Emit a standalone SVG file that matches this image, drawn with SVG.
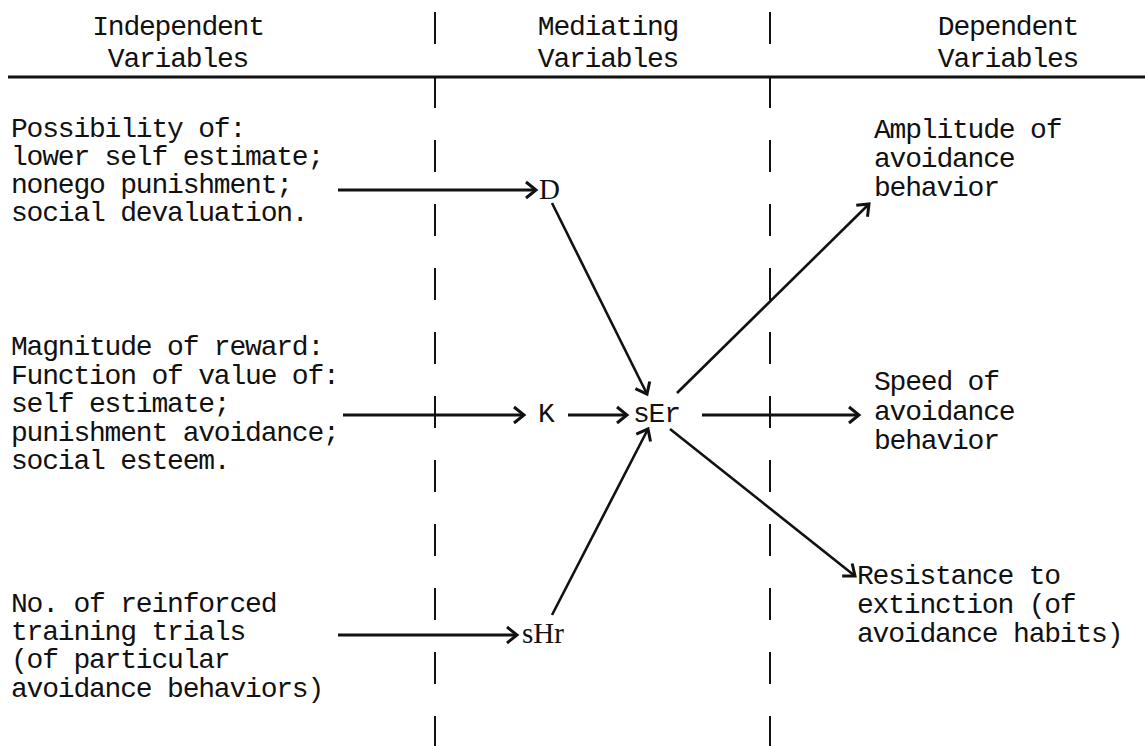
<svg xmlns="http://www.w3.org/2000/svg" width="1145" height="746" viewBox="0 0 1145 746">
<style>
text{font-family:"Liberation Mono","Courier New",monospace;font-size:28px;letter-spacing:-1.2px;fill:#111}
.c{text-anchor:middle}
.serif{font-family:"Liberation Serif","Times New Roman",serif;font-size:29px;letter-spacing:0}
.div{stroke:#111;stroke-width:2;stroke-dasharray:32 32;fill:none}
.rule{stroke:#111;stroke-width:3}
.arr{stroke:#111;stroke-width:3;fill:none;marker-end:url(#ah)}
.ln{stroke:#111;stroke-width:2.6;fill:none;marker-end:url(#ah)}
</style>
<defs>
<marker id="ah" markerUnits="userSpaceOnUse" viewBox="-14 -10 16 20" refX="0" refY="0" markerWidth="16" markerHeight="20" orient="auto" overflow="visible">
<path d="M-10,-8 L0,0 L-10,8" fill="none" stroke="#111" stroke-width="3" stroke-linejoin="miter"/>
</marker>
</defs>
<rect width="1145" height="746" fill="#fff"/>
<g id="frame">
<line class="div" x1="435" y1="12" x2="435" y2="746"/>
<line class="div" x1="770" y1="12" x2="770" y2="746"/>
<line class="rule" x1="8" y1="77" x2="1145" y2="77"/>
</g>
<g id="headers">
<text class="c" x="178" y="35">Independent</text>
<text class="c" x="178" y="67">Variables</text>
<text class="c" x="608" y="35">Mediating</text>
<text class="c" x="608" y="67">Variables</text>
<text class="c" x="1008" y="35">Dependent</text>
<text class="c" x="1008" y="67">Variables</text>
</g>
<g id="iv-possibility">
<text x="11" y="137">Possibility of:</text>
<text x="11" y="165">lower self estimate;</text>
<text x="11" y="193">nonego punishment;</text>
<text x="11" y="221">social devaluation.</text>
</g>
<g id="iv-magnitude">
<text x="11" y="355">Magnitude of reward:</text>
<text x="11" y="383.5">Function of value of:</text>
<text x="11" y="412">self estimate;</text>
<text x="11" y="440.5">punishment avoidance;</text>
<text x="11" y="469">social esteem.</text>
</g>
<g id="iv-trials">
<text x="11" y="612">No. of reinforced</text>
<text x="11" y="640">training trials</text>
<text x="11" y="668">(of particular</text>
<text x="11" y="697">avoidance behaviors)</text>
</g>
<g id="mv-D"><text class="serif" x="539" y="199">D</text></g>
<g id="mv-K"><text x="538" y="422">K</text></g>
<g id="mv-sEr"><text x="633" y="422">sEr</text></g>
<g id="mv-sHr"><text class="serif" x="522" y="643">sHr</text></g>
<g id="dv-amplitude">
<text x="874" y="138">Amplitude of</text>
<text x="874" y="167">avoidance</text>
<text x="874" y="196">behavior</text>
</g>
<g id="dv-speed">
<text x="874" y="390">Speed of</text>
<text x="874" y="419.5">avoidance</text>
<text x="874" y="449">behavior</text>
</g>
<g id="dv-resistance">
<text x="857" y="584">Resistance to</text>
<text x="857" y="613">extinction (of</text>
<text x="857" y="642">avoidance habits)</text>
</g>
<g id="connectors">
<line class="arr" x1="338" y1="190" x2="536" y2="190"/>
<line class="arr" x1="343" y1="415" x2="524" y2="415"/>
<line class="arr" x1="568" y1="415" x2="627" y2="415"/>
<line class="arr" x1="338" y1="635" x2="517" y2="635"/>
<line class="ln" x1="552" y1="203" x2="647" y2="394"/>
<line class="ln" x1="552" y1="615" x2="648" y2="429"/>
<line class="ln" x1="677" y1="393" x2="869" y2="204"/>
<line class="arr" x1="702" y1="415" x2="859" y2="415"/>
<line class="ln" x1="670" y1="429" x2="855" y2="576"/>
</g>
</svg>
